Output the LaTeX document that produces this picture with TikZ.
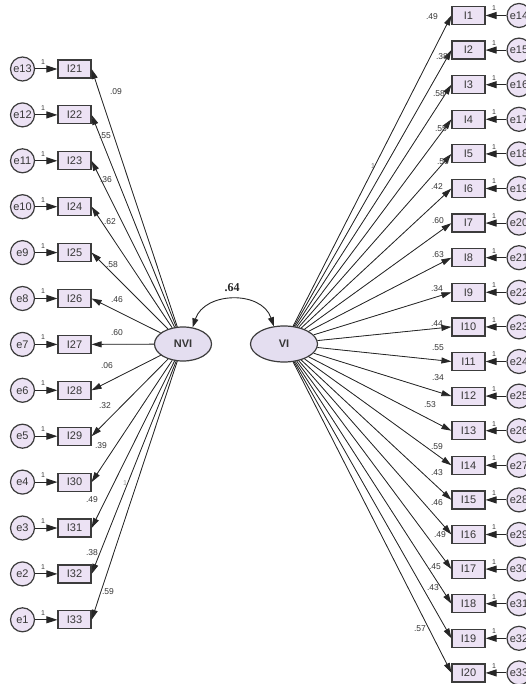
\documentclass[tikz,border=0pt]{standalone}
\usepackage{fontspec}
\setmainfont{Liberation Sans}
\newfontfamily\serifbold{Liberation Serif}
\usetikzlibrary{arrows.meta,shapes.geometric}
\definecolor{boxfill}{RGB}{236,226,244}
\definecolor{ellfill}{RGB}{228,222,240}
\definecolor{edgec}{RGB}{60,60,60}
\definecolor{txt}{RGB}{55,55,55}
\tikzset{
  obs/.style={draw=edgec, line width=1.2pt, fill=boxfill, minimum width=33pt, minimum height=18pt, inner sep=0pt, font=\fontsize{11}{11}\selectfont, text=txt},
  err/.style={circle, draw=edgec, line width=1.2pt, fill=boxfill, minimum size=24pt, inner sep=0pt, font=\fontsize{11}{11}\selectfont, text=txt},
  lat/.style={ellipse, draw=edgec, line width=1.2pt, fill=ellfill, inner sep=0pt, font=\bfseries\fontsize{11}{11}\selectfont, text=txt},
  load/.style={-{Triangle[length=10pt,width=6pt]}, line width=0.8pt, draw=black!85, fill=black!85},
  erra/.style={-{Triangle[length=11pt,width=7pt]}, line width=1pt, draw=black!85},
  lab/.style={font=\fontsize{8.5}{8.5}\selectfont, text=txt, inner sep=0pt},
  onelab/.style={font=\fontsize{7}{7}\selectfont, text=txt, inner sep=0pt},
}
\begin{document}
\begin{tikzpicture}[x=1pt,y=-1pt]
\useasboundingbox (0,0) rectangle (526,684);
\clip (0,0) rectangle (526,684);
\fill[white] (0,0) rectangle (526,684);
% latent variables
\node[lat, minimum width=57pt, minimum height=34pt] (nvi) at (183,344) {NVI};
\node[lat, minimum width=67pt, minimum height=36pt] (vi) at (284,344) {VI};
\draw[{Triangle[length=9pt,width=6pt]}-{Triangle[length=9pt,width=6pt]}, line width=0.9pt, draw=black!85]
  (nvi.60) .. controls +(12,-36) and +(-12,-36) .. (vi.120);
\node[font=\serifbold\bfseries\fontsize{12}{12}\selectfont, text=black!85, inner sep=0pt] (cov) at (232,288) {.64};
% left side
\foreach \k in {0,...,12} {
  \pgfmathtruncatemacro\n{21+\k}
  \pgfmathtruncatemacro\m{13-\k}
  \pgfmathsetmacro\yy{69+45.9*\k}
  \node[obs] (I\n) at (74.5,\yy) {I\n};
  \node[err] (e\m) at (22.5,\yy) {e\m};
  \draw[erra] (e\m) -- (I\n);
  \node[onelab] (one\m) at (43,\yy-7) {1};
}
\foreach \n/\lx/\ly/\v in {21/116/92/.09, 22/105/136/.55, 23/106/180/.36, 24/110/222/.62, 25/112/265/.58, 26/117/300/.46, 27/117/333/.60, 28/107/366/.06, 29/105/406/.32, 30/101/446/.39, 31/92/500/.49, 32/92/553/.38, 33/108/592/.59} {
  \draw[load] (nvi) -- (I\n.east);
  \node[lab] (l\n) at (\lx,\ly) {\v};
}
\node[onelab, text=black!40] (fixl) at (125,483) {1};
% right side
\foreach \k in {0,...,19} {
  \pgfmathtruncatemacro\n{1+\k}
  \pgfmathtruncatemacro\m{14+\k}
  \pgfmathsetmacro\yy{15.5+34.6*\k}
  \node[obs] (I\n) at (468.5,\yy) {I\n};
  \node[err] (e\m) at (519,\yy) {e\m};
  \draw[erra] (e\m) -- (I\n);
  \node[onelab] (one\m) at (494,\yy-7) {1};
}
\foreach \n/\lx/\ly/\v in {1/432/17/.49, 2/442/57/.38, 3/439/94/.58, 4/441/129/.55, 5/443/162/.50, 6/437/187/.42, 7/438/221/.60, 8/438/255/.63, 9/437/289/.34, 10/437/324/.44, 11/438/348/.55, 12/438/378/.34, 13/430/405/.53, 14/437/447/.59, 15/437/473/.43, 16/437/503/.46, 17/440/535/.49, 18/435/567/.45, 19/433/588/.43, 20/420/629/.57} {
  \draw[load] (vi) -- (I\n.west);
  \node[lab] (r\n) at (\lx,\ly) {\v};
}
\node[onelab, text=black!60] (fixr) at (373,166) {1};
\end{tikzpicture}
\end{document}
